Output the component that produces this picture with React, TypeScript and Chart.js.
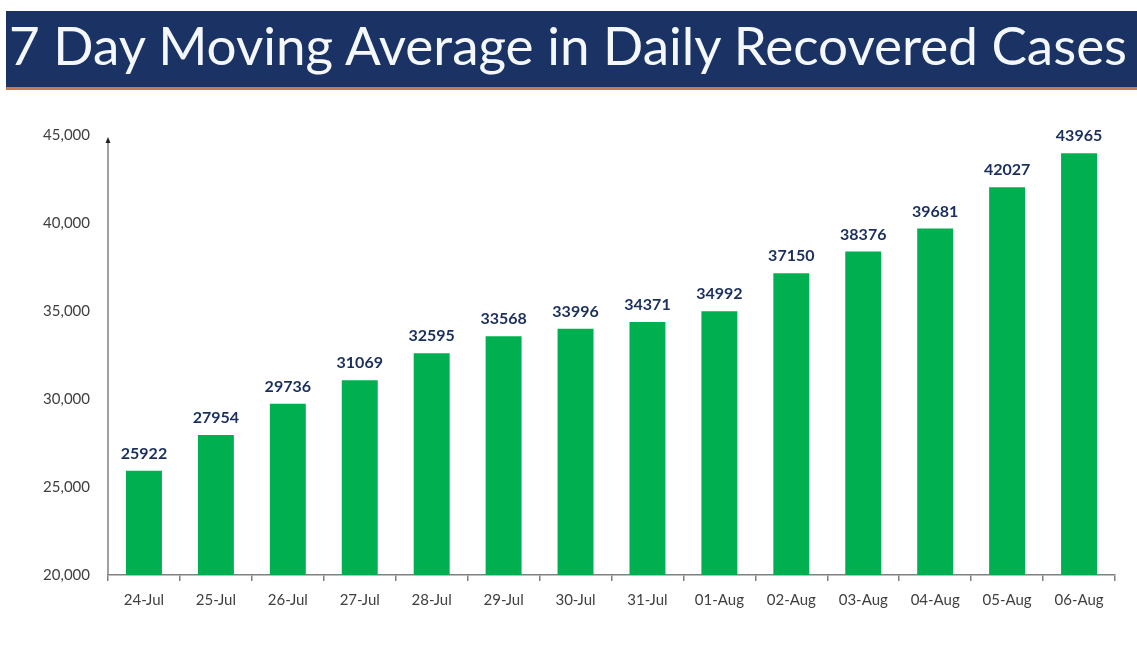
import React, { useEffect, useRef } from "react";
import { Chart, registerables } from "chart.js";

Chart.register(...registerables);

const titleText = "7 Day Moving Average in Daily Recovered Cases";
const categories = [
  "24-Jul", "25-Jul", "26-Jul", "27-Jul", "28-Jul", "29-Jul", "30-Jul",
  "31-Jul", "01-Aug", "02-Aug", "03-Aug", "04-Aug", "05-Aug", "06-Aug",
];
const recovered = [
  25922, 27954, 29736, 31069, 32595, 33568, 33996,
  34371, 34992, 37150, 38376, 39681, 42027, 43965,
];
const yMin = 20000;
const yMax = 45000;
const yStep = 5000;

const FONT = "Lato, 'Open Sans', sans-serif";

const valueLabels = {
  id: "valueLabels",
  afterDatasetsDraw(chart: any) {
    const ctx = chart.ctx;
    const meta = chart.getDatasetMeta(0);
    ctx.save();
    ctx.fillStyle = "#1A2F5E";
    ctx.font = `bold 16px ${FONT}`;
    ctx.textAlign = "center";
    ctx.textBaseline = "alphabetic";
    meta.data.forEach((bar: any, i: number) => {
      ctx.fillText(String(chart.data.datasets[0].data[i]), bar.x, bar.y - 12);
    });
    ctx.restore();
  },
};

const yAxisArrow = {
  id: "yAxisArrow",
  afterDraw(chart: any) {
    const { ctx, chartArea } = chart;
    const x = chartArea.left;
    ctx.save();
    ctx.strokeStyle = "#808080";
    ctx.lineWidth = 1.5;
    ctx.beginPath();
    ctx.moveTo(x, chartArea.bottom);
    ctx.lineTo(x, chartArea.top + 5);
    ctx.stroke();
    ctx.fillStyle = "#222";
    ctx.beginPath();
    ctx.moveTo(x, chartArea.top + 2);
    ctx.lineTo(x - 2.5, chartArea.top + 8);
    ctx.lineTo(x + 2.5, chartArea.top + 8);
    ctx.closePath();
    ctx.fill();
    ctx.restore();
  },
};

export default function App() {
  const canvasRef = useRef<HTMLCanvasElement | null>(null);

  useEffect(() => {
    const canvas = canvasRef.current;
    if (!canvas) return;
    const chart = new Chart(canvas, {
      type: "bar",
      data: {
        labels: categories,
        datasets: [
          {
            data: recovered,
            backgroundColor: "#00B050",
            borderWidth: 0,
            barPercentage: 1,
            categoryPercentage: 0.5,
          },
        ],
      },
      options: {
        responsive: false,
        animation: false,
        layout: { padding: { top: 35, right: 22, left: 0, bottom: 0 } },
        plugins: {
          legend: { display: false },
          tooltip: { enabled: false },
          title: { display: false },
        },
        scales: {
          x: {
            grid: {
              display: true,
              drawOnChartArea: false,
              drawTicks: true,
              tickLength: 6,
              color: "#808080",
              lineWidth: 1.5,
            },
            border: { display: true, color: "#808080", width: 1.5 },
            ticks: {
              color: "#404040",
              font: { family: FONT, size: 15 },
              padding: 10,
              maxRotation: 0,
              autoSkip: false,
            },
            afterFit(scale: any) {
              scale.height = 70;
            },
          },
          y: {
            min: yMin,
            max: yMax,
            grid: { display: false, drawTicks: false },
            border: { display: false },
            ticks: {
              stepSize: yStep,
              color: "#404040",
              font: { family: FONT, size: 15 },
              padding: 18,
              callback: (v: any) => Number(v).toLocaleString("en-US"),
            },
            afterFit(scale: any) {
              scale.width = 108;
            },
          },
        },
      },
      plugins: [valueLabels, yAxisArrow],
    });
    return () => chart.destroy();
  }, []);

  return (
    <div
      style={{
        position: "fixed",
        left: 0,
        top: 0,
        width: 1137,
        height: 645,
        background: "#ffffff",
        overflow: "hidden",
      }}
    >
      <div
        style={{
          position: "absolute",
          left: 6,
          top: 11,
          width: 1131,
          height: 76,
          background: "#1B3364",
          borderBottom: "3px solid #C47A55",
          boxSizing: "content-box",
        }}
      >
        <div
          style={{
            position: "absolute",
            left: 3,
            top: -4,
            height: 76,
            lineHeight: "76px",
            color: "#F4F8FC",
            fontFamily: FONT,
            fontSize: 53,
            whiteSpace: "nowrap",
          }}
        >
          {titleText}
        </div>
      </div>
      <canvas
        ref={canvasRef}
        width={1137}
        height={545}
        style={{ position: "absolute", left: 0, top: 100, width: 1137, height: 545 }}
      />
    </div>
  );
}
